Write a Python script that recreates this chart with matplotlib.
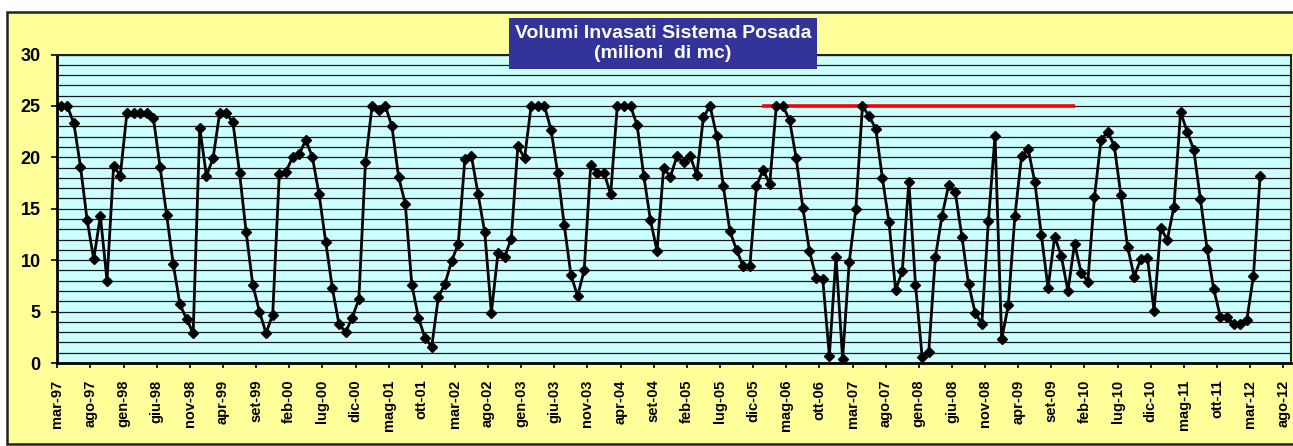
import matplotlib
matplotlib.use("Agg")
import matplotlib.pyplot as plt
from matplotlib.patches import Rectangle
from matplotlib.transforms import ScaledTranslation
import numpy as np

# ---------------- data ----------------
volumi = [
    25.0, 25.0, 23.3, 19.1, 13.9, 10.1, 14.3, 8.0, 19.2, 18.2,
    24.3, 24.3, 24.3, 24.3, 23.8, 19.1, 14.4, 9.6, 5.7, 4.3,
    2.9, 22.9, 18.2, 19.9, 24.3, 24.3, 23.4, 18.5, 12.7, 7.6,
    5.0, 2.9, 4.7, 18.4, 18.6, 20.0, 20.3, 21.7, 20.0, 16.4,
    11.8, 7.3, 3.8, 3.0, 4.4, 6.2, 19.5, 25.0, 24.6, 25.0,
    23.0, 18.1, 15.5, 7.6, 4.4, 2.4, 1.6, 6.4, 7.7, 9.9,
    11.6, 19.8, 20.1, 16.4, 12.7, 4.9, 10.7, 10.3, 12.1, 21.1,
    19.9, 25.0, 25.0, 25.0, 22.7, 18.5, 13.4, 8.6, 6.5, 9.0,
    19.3, 18.5, 18.5, 16.4, 25.0, 25.0, 25.0, 23.1, 18.2, 13.9,
    10.9, 19.0, 18.1, 20.1, 19.5, 20.1, 18.3, 23.9, 25.0, 22.1,
    17.2, 12.8, 11.0, 9.4, 9.4, 17.2, 18.8, 17.4, 25.0, 25.0,
    23.6, 19.9, 15.1, 10.9, 8.3, 8.2, 0.7, 10.3, 0.4, 9.8,
    15.0, 25.0, 24.0, 22.8, 18.0, 13.7, 7.1, 8.9, 17.6, 7.6,
    0.6, 1.1, 10.3, 14.3, 17.3, 16.6, 12.3, 7.7, 4.9, 3.8,
    13.8, 22.1, 2.3, 5.6, 14.3, 20.1, 20.8, 17.6, 12.4, 7.3,
    12.3, 10.4, 7.0, 11.6, 8.8, 7.9, 16.1, 21.7, 22.5, 21.1,
    16.3, 11.3, 8.4, 10.1, 10.2, 5.1, 13.1, 12.0, 15.2, 24.4,
    22.5, 20.7, 15.9, 11.1, 7.2, 4.5, 4.5, 3.8, 3.8, 4.2,
    8.5, 18.2,
]

tick_labels = [
    "mar-97", "ago-97", "gen-98", "giu-98", "nov-98", "apr-99", "set-99",
    "feb-00", "lug-00", "dic-00", "mag-01", "ott-01", "mar-02", "ago-02",
    "gen-03", "giu-03", "nov-03", "apr-04", "set-04", "feb-05", "lug-05",
    "dic-05", "mag-06", "ott-06", "mar-07", "ago-07", "gen-08", "giu-08",
    "nov-08", "apr-09", "set-09", "feb-10", "lug-10", "dic-10", "mag-11",
    "ott-11", "mar-12", "ago-12",
]

y_ticks = [0, 5, 10, 15, 20, 25, 30]

soglia = 25            # red reference level
soglia_da = 106.4      # start (months from mar-97)
soglia_a = 153.6       # end

title = "Volumi Invasati Sistema Posada\n(milioni  di mc)"

# ---------------- figure ----------------
W, H = 1293, 446
fig = plt.figure(figsize=(W / 100, H / 100), dpi=100)
fig.patch.set_facecolor("white")

def fx(px):
    return px / W

def fy(py):
    return 1 - py / H

# chart area (yellow with dark border)
bg = Rectangle((fx(6.5), fy(443.5)), fx(1300 - 6.5), (443.5 - 11.5) / H,
               transform=fig.transFigure, facecolor="#FFFF99",
               edgecolor="#222222", linewidth=1.8, zorder=-5)
fig.patches.append(bg)

left, right, top, bottom = 57.3, 1291.0, 54.5, 363.0
ax = fig.add_axes([fx(left), fy(bottom), (right - left) / W, (bottom - top) / H])
ax.set_zorder(1)
ax.set_facecolor("#CCFFFF")

x = np.arange(len(volumi)) + 0.5
ax.plot(x, volumi, color="black", linewidth=2.0, marker="D", markersize=5.5,
        markerfacecolor="black", markeredgecolor="black", zorder=4)
ax.plot([soglia_da, soglia_a], [soglia, soglia], color="#FF0000", linewidth=2.6,
        solid_capstyle="butt", zorder=3)

ax.set_xlim(0, (right - left) / 6.627)
ax.set_ylim(0, 30)

ax.set_yticks(y_ticks)
ax.set_yticks(np.arange(0, 31, 1), minor=True)
ax.grid(True, which="both", axis="y", color="#1a1a1a", linewidth=0.9, zorder=1)
ax.set_axisbelow(True)

xt = np.arange(len(tick_labels)) * 5
ax.set_xticks(xt)
ax.set_xticklabels(tick_labels, rotation=90, fontsize=10.5, fontweight="bold",
                   family="Liberation Sans", va="top", ha="center")
for lab in ax.get_xticklabels():
    lab.set_transform(lab.get_transform() + ScaledTranslation(6 / 100, 0, fig.dpi_scale_trans))

ax.set_yticklabels([str(v) for v in y_ticks], fontsize=13, fontweight="bold",
                   family="Liberation Sans")
ax.tick_params(axis="y", which="major", direction="out", length=4, width=1.2, pad=8, colors="black")
ax.tick_params(axis="y", which="minor", length=0)
ax.tick_params(axis="x", which="major", direction="out", length=3.5, width=1.2, pad=8.5, colors="black")

for s in ["left", "bottom"]:
    ax.spines[s].set_linewidth(2.0)
    ax.spines[s].set_color("black")
for s in ["top", "right"]:
    ax.spines[s].set_linewidth(1.5)
    ax.spines[s].set_color("#222222")

# title box
bx0, bx1, by0, by1 = 509, 817, 18, 69
fig.patches.append(Rectangle((fx(bx0), fy(by1)), (bx1 - bx0) / W, (by1 - by0) / H,
                             transform=fig.transFigure, facecolor="#333399",
                             edgecolor="none", zorder=10))
fig.text(fx((bx0 + bx1) / 2), fy((by0 + by1) / 2), title, ha="center", va="center",
         color="white", fontsize=14, fontweight="bold", family="Liberation Sans",
         linespacing=1.2, zorder=11)

fig.savefig("out.png", dpi=100)
